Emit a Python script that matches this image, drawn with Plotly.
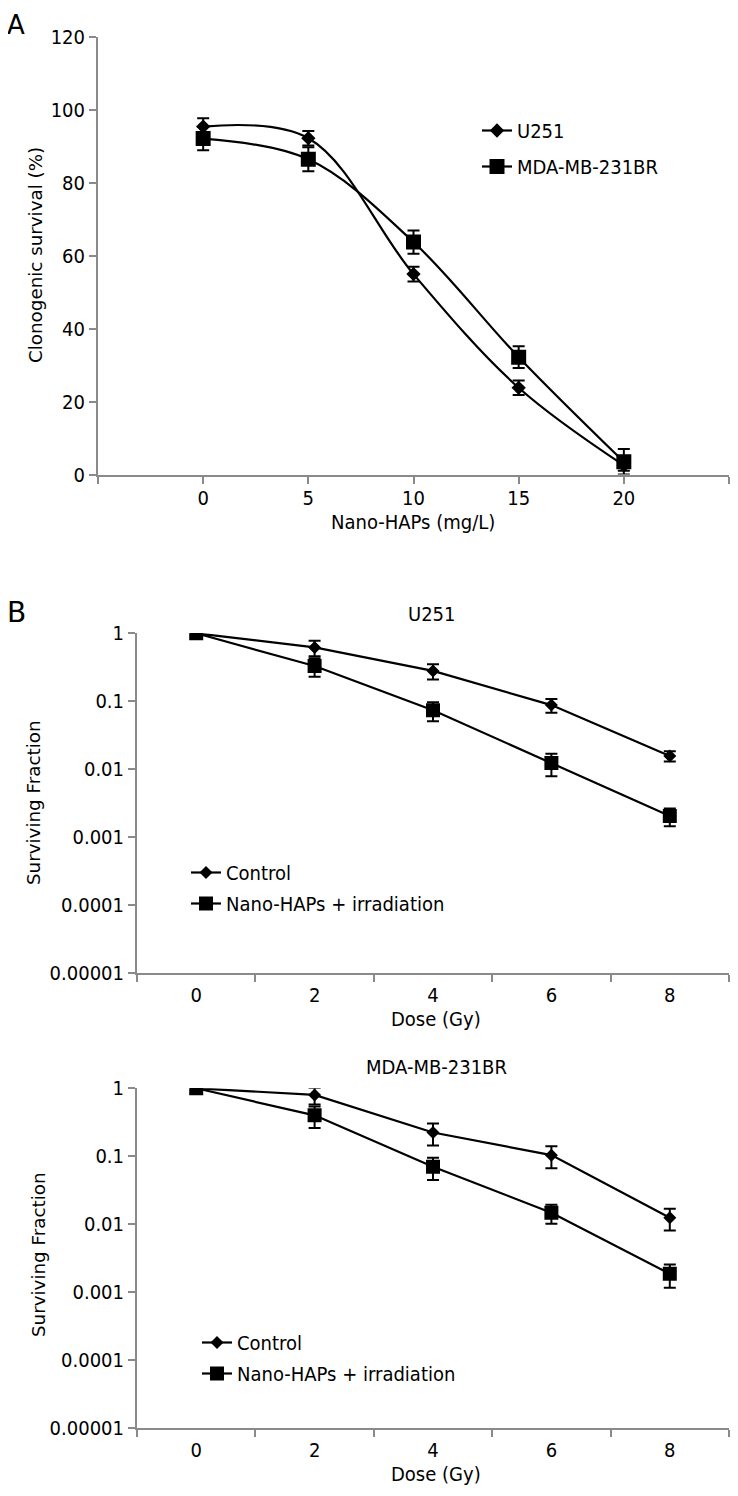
import plotly.graph_objects as go

# page is 738x1496; the browser body has an 8px margin, so the figure is drawn 722x1480
PAGE_OFF = 8
W, H = 722, 1480

# ---------------- data ----------------
nano_dose = [0, 5, 10, 15, 20]
a_u251 = [95.5, 92.3, 55.0, 23.8, 2.5]
a_u251_err = [2.3, 2.0, 2.0, 2.0, 1.5]
a_mda = [92.2, 86.5, 63.8, 32.2, 3.5]
a_mda_err = [3.2, 3.3, 3.2, 3.0, 3.5]

gy_dose = ["0", "2", "4", "6", "8"]
b1_ctrl = [1.0, 0.62, 0.28, 0.088, 0.0157]
b1_ctrl_err = [0.0, 0.16, 0.07, 0.02, 0.0027]
b1_nano = [1.0, 0.33, 0.074, 0.0124, 0.00205]
b1_nano_err = [0.0, 0.10, 0.023, 0.0045, 0.0006]

b2_ctrl = [1.0, 0.80, 0.224, 0.104, 0.0125]
b2_ctrl_err = [0.0, 0.22, 0.08, 0.037, 0.0044]
b2_nano = [1.0, 0.40, 0.070, 0.0148, 0.00187]
b2_nano_err = [0.0, 0.14, 0.025, 0.0046, 0.0007]

a_xticks = [-5, 0, 5, 10, 15, 20, 25]
a_xlabels = ["", "0", "5", "10", "15", "20", ""]
log_ticks = [1, 0.1, 0.01, 0.001, 0.0001, 0.00001]
log_labels = ["1", "0.1", "0.01", "0.001", "0.0001", "0.00001"]

# ---------------- style ----------------
HFONT = "DejaVu Sans Condensed, DejaVu Sans"
VFONT = "DejaVu Sans"
FS = 20
VFS = 18.3
AX = "#8a8a8a"

def px_x(p):
    return (p - PAGE_OFF) / W

def px_y(p):
    return 1 - (p - PAGE_OFF) / H

fig = go.Figure()

def add(x, y, err, name, sym, size, xa, ya, legend, group, shape="linear"):
    fig.add_trace(go.Scatter(
        x=x, y=y, name=name, mode="lines+markers", legendgroup=group,
        line=dict(color="black", width=2.2, shape=shape, smoothing=1),
        marker=dict(symbol=sym, size=size, color="black"),
        error_y=dict(type="data", array=err, visible=True, color="black",
                     thickness=2, width=6),
        xaxis=xa, yaxis=ya, legend=legend,
    ))

add(nano_dose, a_u251, a_u251_err, "U251", "diamond", 11, "x", "y", "legend", "a1", "spline")
add(nano_dose, a_mda, a_mda_err, "MDA-MB-231BR", "square", 15, "x", "y", "legend", "a2", "spline")
add(gy_dose, b1_ctrl, b1_ctrl_err, "Control", "diamond", 10, "x2", "y2", "legend2", "b1", "linear")
add(gy_dose, b1_nano, b1_nano_err, "Nano-HAPs + irradiation", "square", 14, "x2", "y2", "legend2", "b2", "linear")
add(gy_dose, b2_ctrl, b2_ctrl_err, "Control", "diamond", 10, "x3", "y3", "legend3", "c1", "linear")
add(gy_dose, b2_nano, b2_nano_err, "Nano-HAPs + irradiation", "square", 14, "x3", "y3", "legend3", "c2", "linear")

axis_common = dict(showline=True, linecolor=AX, linewidth=2, ticks="outside",
                   tickcolor=AX, ticklen=7, tickwidth=2, showgrid=False,
                   zeroline=False, automargin=False,
                   tickfont=dict(family=HFONT, size=FS, color="black"))

leg_common = dict(xanchor="left", yanchor="top", bgcolor="rgba(0,0,0,0)",
                  font=dict(family=HFONT, size=FS, color="black"))

fig.update_layout(
    template="none",
    width=W, height=H, margin=dict(l=0, r=0, t=0, b=0, pad=0), autosize=False,
    paper_bgcolor="white", plot_bgcolor="white",
    font=dict(family=HFONT, size=FS, color="black"),
    xaxis=dict(domain=[px_x(98), px_x(729)], range=[-5, 25], tickvals=a_xticks,
               ticktext=a_xlabels, anchor="y", ticklabelstandoff=-3, **axis_common),
    yaxis=dict(domain=[px_y(474.5), px_y(37.3)], range=[0, 120], dtick=20,
               anchor="x", **axis_common),
    xaxis2=dict(domain=[px_x(137), px_x(729)], type="category", tickson="boundaries",
                range=[-0.5, 4.5], anchor="y2", ticklabelstandoff=3, **axis_common),
    yaxis2=dict(domain=[px_y(973.3), px_y(633.3)], type="log", range=[-5, 0],
                tickvals=log_ticks, ticktext=log_labels, anchor="x2", **axis_common),
    xaxis3=dict(domain=[px_x(137), px_x(729)], type="category", tickson="boundaries",
                range=[-0.5, 4.5], anchor="y3", ticklabelstandoff=3, **axis_common),
    yaxis3=dict(domain=[px_y(1428.3), px_y(1088.3)], type="log", range=[-5, 0],
                tickvals=log_ticks, ticktext=log_labels, anchor="x3", **axis_common),
    legend=dict(x=px_x(477), y=px_y(111), tracegroupgap=7, **leg_common),
    legend2=dict(x=px_x(186), y=px_y(853), tracegroupgap=2, **leg_common),
    legend3=dict(x=px_x(197), y=px_y(1323), tracegroupgap=2, **leg_common),
    showlegend=True,
)

def note(text, x, y, size=FS, angle=0, family=HFONT):
    fig.add_annotation(text=text, x=px_x(x), y=px_y(y), xref="paper", yref="paper",
                       showarrow=False, textangle=angle,
                       font=dict(family=family, size=size, color="black"),
                       xanchor="center", yanchor="middle")

note("A", 16, 25, 26, family=VFONT)
note("B", 16, 612, 28, family=VFONT)
note("Clonogenic survival (%)", 35, 255, VFS, -90, VFONT)
note("Nano-HAPs (mg/L)", 413, 522)
note("U251", 432, 614)
note("Surviving Fraction", 33, 803, VFS, -90, VFONT)
note("Dose (Gy)", 436, 1019)
note("MDA-MB-231BR", 436, 1067)
note("Surviving Fraction", 38, 1255, VFS, -90, VFONT)
note("Dose (Gy)", 436, 1474)

fig.write_html("out.html")
